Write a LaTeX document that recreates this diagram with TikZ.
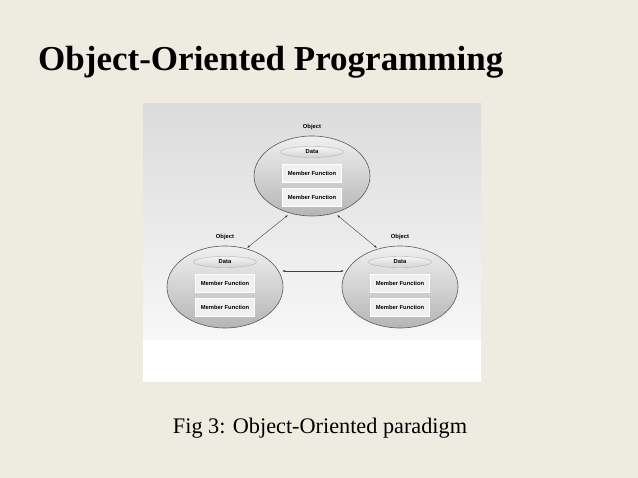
\documentclass[tikz,border=0pt]{standalone}
\usepackage{fontspec}
\setmainfont{Liberation Serif}
\newfontfamily\smallsans{Liberation Sans}
\definecolor{slidebg}{HTML}{EEEBE0}
\usetikzlibrary{arrows.meta,shapes.geometric,shadows}
\begin{document}
\begin{tikzpicture}[x=1pt,y=-1pt,
  tinyfont/.style={font=\smallsans\bfseries\fontsize{5.8}{6.5}\selectfont},
  objell/.style={draw=gray!70!black, line width=0.6pt, top color=gray!12, bottom color=gray!58, shading angle=0},
  dataell/.style={shape=ellipse, minimum width=63pt, minimum height=11pt, inner sep=0pt, draw=gray!60, top color=gray!8, bottom color=gray!35, tinyfont},
  mfbox/.style={draw=white, fill=gray!12, minimum width=59pt, minimum height=18pt, inner sep=0pt, tinyfont, drop shadow={shadow xshift=0.8pt, shadow yshift=-0.8pt, fill=gray!60, opacity=0.8}},
  lbl/.style={tinyfont, inner sep=0pt},
  conn/.style={{Latex[length=3pt,width=2pt]}-{Latex[length=3pt,width=2pt]}, gray!50!black, line width=0.4pt}
]
\useasboundingbox (0,0) rectangle (638,478);
\fill[slidebg] (0,0) rectangle (638,478);
% title
\node[anchor=west, inner sep=0pt] (title) at (38,62) {\resizebox{465pt}{!}{\bfseries Object-Oriented Programming}};
% panel
\fill[white] (143,104) rectangle (481,382);
\shade[top color=gray!28, bottom color=gray!6] (143,104) rectangle (481,340);
% top object
\draw[objell] (312,176) ellipse [x radius=58, y radius=40];
\node[lbl] (o1) at (312,127) {Object};
\node[dataell] (d1) at (312,152) {Data};
\node[mfbox] (m1a) at (312,173) {Member Function};
\node[mfbox] (m1b) at (312,197) {Member Function};
% left object
\draw[objell] (225,287) ellipse [x radius=58, y radius=41];
\node[lbl] (o2) at (225,237) {Object};
\node[dataell] (d2) at (225,262) {Data};
\node[mfbox] (m2a) at (225,283) {Member Function};
\node[mfbox] (m2b) at (225,307) {Member Function};
% right object
\draw[objell] (400,287) ellipse [x radius=58, y radius=41];
\node[lbl] (o3) at (400,237) {Object};
\node[dataell] (d3) at (400,262) {Data};
\node[mfbox] (m3a) at (400,283) {Member Function};
\node[mfbox] (m3b) at (400,307) {Member Function};
% connectors
\coordinate (a1) at (288,215);
\coordinate (a2) at (247,248);
\coordinate (b1) at (337,215);
\coordinate (b2) at (377,248);
\coordinate (c1) at (282,271);
\coordinate (c2) at (344,271);
\draw[conn] (a1) -- (a2);
\draw[conn] (b1) -- (b2);
\draw[conn] (c1) -- (c2);
% caption
\node[inner sep=0pt] (cap) at (320,428) {\resizebox{294pt}{!}{Fig 3: Object-Oriented paradigm}};
\end{tikzpicture}
\end{document}
